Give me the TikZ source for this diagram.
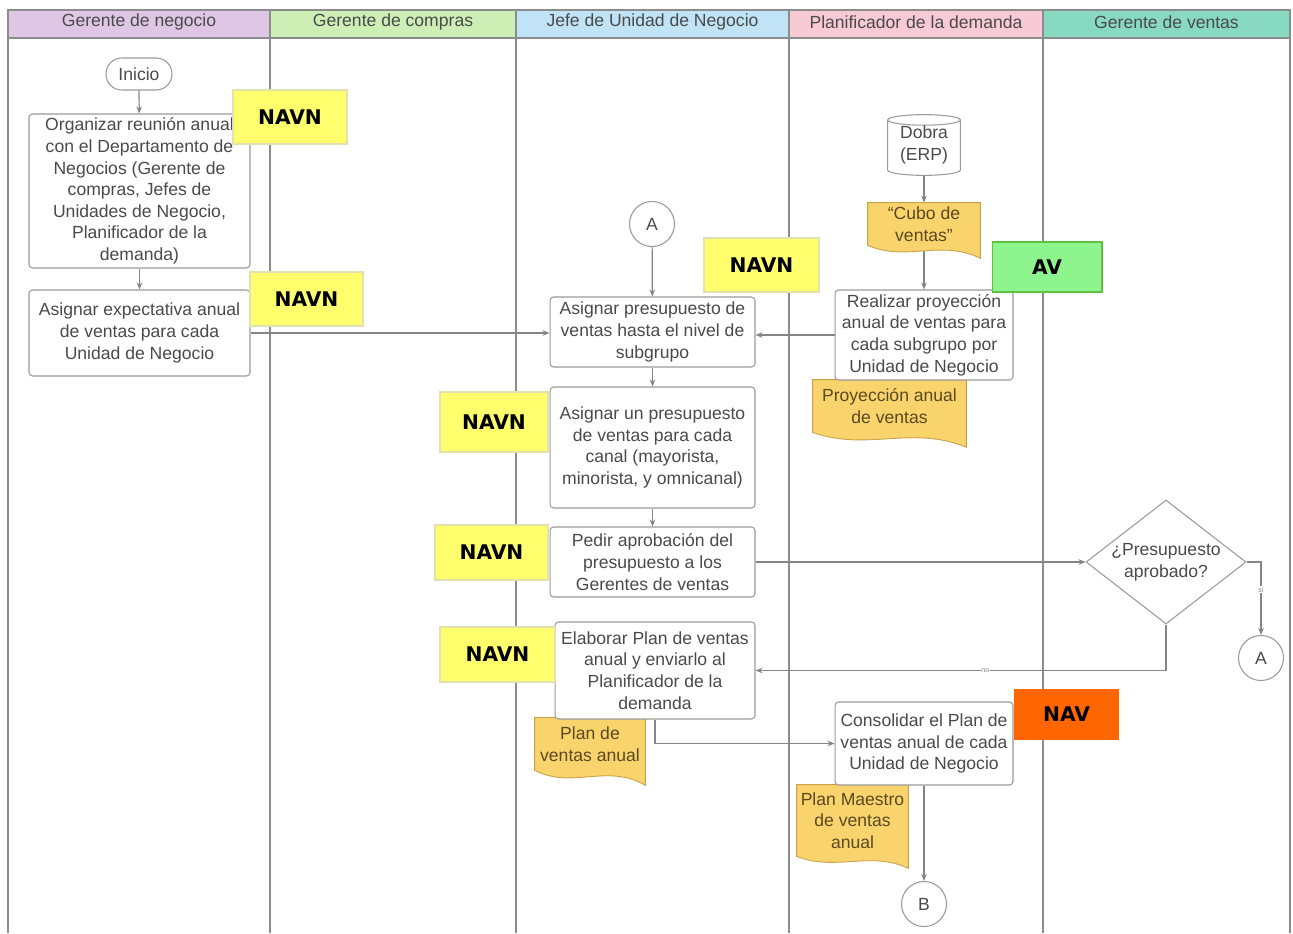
\documentclass[tikz,border=0pt]{standalone}
\usepackage{fontspec}
\setmainfont{Liberation Sans}
\newfontfamily\tagfont{DejaVu Sans}
\usetikzlibrary{shapes.geometric,arrows.meta,calc}

\definecolor{laneline}{HTML}{8C8C8C}
\definecolor{hdrA}{HTML}{E0C6E5}
\definecolor{hdrB}{HTML}{CDEFB6}
\definecolor{hdrC}{HTML}{C0E4F5}
\definecolor{hdrD}{HTML}{F8CAD6}
\definecolor{hdrE}{HTML}{88D9C1}
\definecolor{boxline}{HTML}{9A9A9A}
\definecolor{txt}{HTML}{4A4A4A}
\definecolor{docfill}{HTML}{F9D36B}
\definecolor{docline}{HTML}{C9A24A}
\definecolor{doctxt}{HTML}{5A4A22}
\definecolor{flowline}{HTML}{858585}
\definecolor{tagyellow}{HTML}{FFFF6E}
\definecolor{tagyellowb}{HTML}{E2E2B0}
\definecolor{taggreen}{HTML}{8EF58E}
\definecolor{taggreenb}{HTML}{5EC23E}
\definecolor{tagorange}{HTML}{FF6600}

\pgfdeclarelayer{lanes}
\pgfdeclarelayer{edges}
\pgfdeclarelayer{docbg}
\pgfsetlayers{lanes,edges,docbg,main}

% wavy-bottom document outline around a node; #2 = drop of the right tip
\newcommand\docbody[2]{%
  \path[docshape] let \p1=(#1.north west), \p2=(#1.south east), \n1={\x2-\x1} in
    (\p1) -- (\x2,\y1) -- (\x2,\y2-#2)
    .. controls (\x2-0.35*\n1,\y2+0.5*#2) and (\x1+0.35*\n1,\y2-1.3*#2) .. (\x1,\y2) -- cycle;}

% database cylinder outline around a node
\newcommand\dbbody[1]{%
  \path[cylshape] let \p1=(#1.north west), \p2=(#1.south east), \n1={(\x2-\x1)/2} in
    (\x1,\y1-3pt) -- (\x1,\y2+3pt)
    arc[start angle=180,end angle=360,x radius=\n1,y radius=3pt]
    -- (\x2,\y1-3pt)
    arc[start angle=0,end angle=180,x radius=\n1,y radius=3pt] -- cycle
    (\x1,\y1-3pt) arc[start angle=180,end angle=360,x radius=\n1,y radius=3pt];}

\begin{document}
\begin{tikzpicture}[x=0.02cm,y=-0.02cm,
  basefont/.style={font=\fontsize{10}{12.3}\selectfont},
  hdr/.style={basefont,text=txt,inner sep=0pt},
  proc/.style={basefont,draw=boxline,fill=white,rounded corners=2pt,align=center,
    text=txt,inner sep=0pt,line width=0.6pt},
  doc/.style={basefont,align=center,text=doctxt,inner sep=0pt},
  docshape/.style={fill=docfill,draw=docline,line width=0.5pt},
  cylshape/.style={fill=white,draw=boxline,line width=0.6pt},
  circ/.style={basefont,circle,draw=boxline,fill=white,text=txt,inner sep=0pt,
    minimum size=0.9cm,line width=0.6pt},
  decision/.style={basefont,diamond,shape aspect=1.29,draw=boxline,fill=white,text=txt,
    align=center,inner sep=0pt,line width=0.6pt},
  flow/.style={draw=flowline,line width=0.7pt,-{Stealth[length=4pt,width=3.2pt]}},
  lbl/.style={font=\fontsize{4}{4}\selectfont,text=flowline,fill=white,inner sep=0.5pt},
  tag/.style={font=\tagfont\bfseries\fontsize{11.5}{12}\selectfont,inner sep=0pt,
    line width=0.6pt},
  navn/.style={tag,fill=tagyellow,draw=tagyellowb},
]
\useasboundingbox (0,0) rectangle (1293,933);

% swimlanes
\begin{pgfonlayer}{lanes}
  \fill[hdrA] (8,10) rectangle (270,38);
  \fill[hdrB] (270,10) rectangle (516,38);
  \fill[hdrC] (516,10) rectangle (789,38);
  \fill[hdrD] (789,10) rectangle (1043,38);
  \fill[hdrE] (1043,10) rectangle (1290,38);
  \draw[laneline,line width=0.6pt] (8,933) -- (8,10) -- (1290,10) -- (1290,933);
  \draw[laneline,line width=0.6pt] (8,38) -- (1290,38);
  \foreach \lx in {270,516,789,1043}
    \draw[laneline,line width=0.6pt] (\lx,10) -- (\lx,933);
\end{pgfonlayer}
\node[hdr] (h1) at (139,22) {Gerente de negocio};
\node[hdr] (h2) at (393,22) {Gerente de compras};
\node[hdr] (h3) at (652.5,22) {Jefe de Unidad de Negocio};
\node[hdr] (h4) at (916,22) {Planificador de la demanda};
\node[hdr] (h5) at (1166.5,22) {Gerente de ventas};

% process steps
\node[proc,rounded corners=9pt,minimum width=1.32cm,minimum height=0.64cm] (ini) at (139,74) {Inicio};
\node[proc,minimum width=4.42cm,minimum height=3.08cm] (org) at (139.5,191)
  {Organizar reunión anual\\con el Departamento de\\Negocios (Gerente de\\compras, Jefes de\\Unidades de Negocio,\\Planificador de la\\demanda)};
\node[proc,minimum width=4.42cm,minimum height=1.72cm] (exp) at (139.5,333)
  {Asignar expectativa anual\\de ventas para cada\\Unidad de Negocio};
\node[circ] (a1) at (652,224) {A};
\node[proc,minimum width=4.1cm,minimum height=1.4cm] (presup) at (652.5,332)
  {Asignar presupuesto de\\ventas hasta el nivel de\\subgrupo};
\node[proc,minimum width=4.1cm,minimum height=2.42cm] (canal) at (652.5,447.5)
  {Asignar un presupuesto\\de ventas para cada\\canal (mayorista,\\minorista, y omnicanal)};
\node[proc,minimum width=4.1cm,minimum height=1.4cm] (pedir) at (652.5,562)
  {Pedir aprobación del\\presupuesto a los\\Gerentes de ventas};
\node[proc,minimum width=4.0cm,minimum height=1.94cm] (elab) at (655,670.5)
  {Elaborar Plan de ventas\\anual y enviarlo al\\Planificador de la\\demanda};
\node[minimum width=1.44cm,minimum height=1.2cm,inner sep=0pt,basefont,align=center,text=txt] (dobra) at (924,145)
  {Dobra\\(ERP)};
\node[doc,minimum width=2.24cm,minimum height=0.84cm] (cubo) at (924,224) {“Cubo de\\ventas”};
\node[proc,minimum width=3.56cm,minimum height=1.8cm] (proy) at (924,335)
  {Realizar proyección\\anual de ventas para\\cada subgrupo por\\Unidad de Negocio};
\node[doc,minimum width=3.06cm,minimum height=1.04cm] (proyd) at (889.5,406) {Proyección anual\\de ventas};
\node[doc,minimum width=2.2cm,minimum height=1.04cm] (pvd) at (590,744) {Plan de\\ventas anual};
\node[proc,minimum width=3.56cm,minimum height=1.66cm] (cons) at (924,743.5)
  {Consolidar el Plan de\\ventas anual de cada\\Unidad de Negocio};
\node[doc,minimum width=2.22cm,minimum height=1.42cm] (pmd) at (852.5,820.5) {Plan Maestro\\de ventas\\anual};
\node[circ] (b) at (924,904) {B};
\node[decision,minimum width=3.2cm,minimum height=2.48cm] (dec) at (1166,562) {¿Presupuesto\\aprobado?};
\node[circ] (a2) at (1261,658) {A};

% document and database outlines
\begin{pgfonlayer}{docbg}
  \docbody{cubo}{7.4pt}
  \docbody{proyd}{8.5pt}
  \docbody{pvd}{8.5pt}
  \docbody{pmd}{6.8pt}
  \dbbody{dobra}
\end{pgfonlayer}

% connectors
\begin{pgfonlayer}{edges}
  \draw[flow] (ini) -- (org);
  \draw[flow] (org) -- (exp);
  \draw[flow] (exp.east) -- (exp.east -| presup.west);
  \draw[flow] (a1) -- (presup);
  \draw[flow] (dobra.south) -- (cubo.north);
  \draw[flow] (cubo.south) -- (proy.north);
  \draw[flow] (proy.west) -- (proy.west -| presup.east);
  \draw[flow] (presup) -- (canal);
  \draw[flow] (canal) -- (pedir);
  \draw[flow] (pedir.east) -- (dec.west);
  \draw[flow] (dec.east) -| node[lbl,pos=0.69] {sí} (a2.north);
  \draw[flow] (dec.south) |- node[lbl,pos=0.72] {no} (elab.east);
  \draw[flow] (elab.south) |- (cons.west);
  \draw[flow] (cons.south) -- (b.north);
\end{pgfonlayer}

% value classification tags
\node[navn,minimum width=2.28cm,minimum height=1.08cm] (t1) at (290,117) {NAVN};
\node[navn,minimum width=2.26cm,minimum height=1.08cm] (t2) at (306.5,299) {NAVN};
\node[navn,minimum width=2.3cm,minimum height=1.08cm] (t3) at (761.5,265) {NAVN};
\node[navn,minimum width=2.16cm,minimum height=1.2cm] (t4) at (494,422) {NAVN};
\node[navn,minimum width=2.26cm,minimum height=1.1cm] (t5) at (491.5,552.5) {NAVN};
\node[navn,minimum width=2.3cm,minimum height=1.1cm] (t6) at (497.5,654.5) {NAVN};
\node[tag,fill=taggreen,draw=taggreenb,minimum width=2.2cm,minimum height=1.0cm] (t7) at (1047,267) {AV};
\node[tag,fill=tagorange,minimum width=2.1cm,minimum height=1.02cm] (t8) at (1066.5,714.5) {NAV};
\end{tikzpicture}
\end{document}
